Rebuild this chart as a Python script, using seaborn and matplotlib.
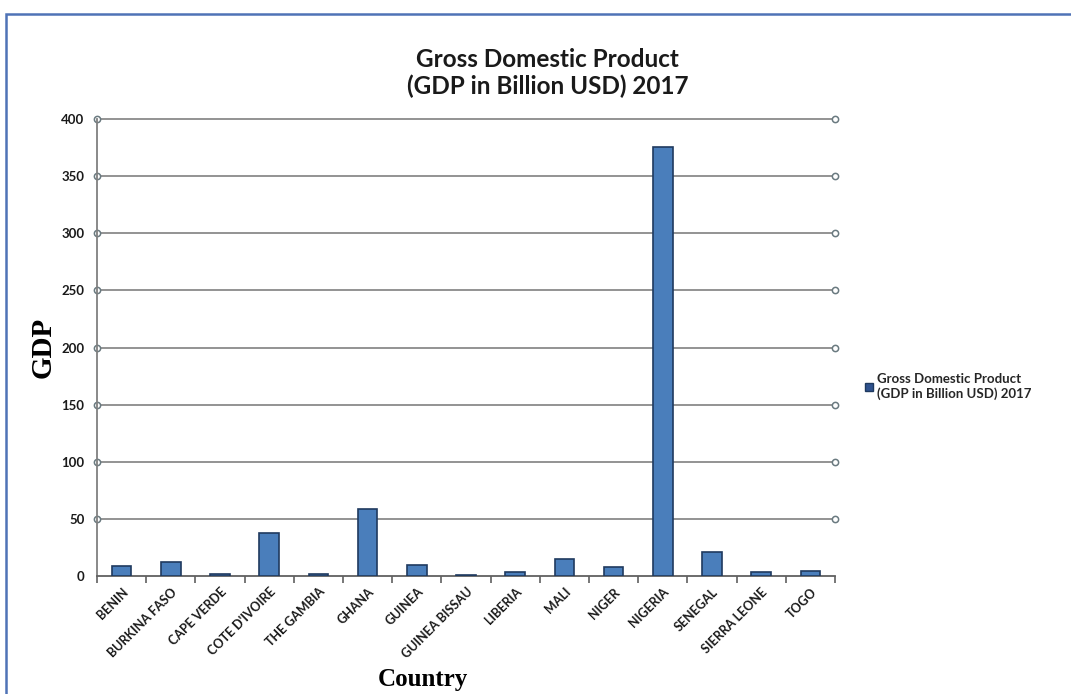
import matplotlib
matplotlib.use("Agg")
import matplotlib.pyplot as plt
from matplotlib.patches import Rectangle
from matplotlib.lines import Line2D
import seaborn as sns
import pandas as pd

countries = ["BENIN", "BURKINA FASO", "CAPE VERDE", "COTE D'IVOIRE", "THE GAMBIA",
             "GHANA", "GUINEA", "GUINEA BISSAU", "LIBERIA", "MALI", "NIGER",
             "NIGERIA", "SENEGAL", "SIERRA LEONE", "TOGO"]
gdp = [9.0, 12.5, 1.7, 37.5, 1.5, 58.5, 9.5, 1.3, 3.3, 15.0, 8.0, 375.5, 21.0, 3.8, 4.8]
yticks = [0, 50, 100, 150, 200, 250, 300, 350, 400]
series_name = "Gross Domestic Product\n(GDP in Billion USD) 2017"

df = pd.DataFrame({"Country": countries, "GDP": gdp})

sns.set_theme(style="white")
plt.rcParams["font.family"] = ["Lato", "DejaVu Sans"]

fig = plt.figure(figsize=(10.71, 6.94), dpi=100)
ax = fig.add_axes([0.0906, 0.170, 0.6890, 0.6585])

bar_color = "#4A7EBB"
edge_color = "#1F3A5F"
sns.barplot(data=df, x="Country", y="GDP", color=bar_color, width=0.4,
            edgecolor=edge_color, linewidth=1.2, saturation=1, ax=ax, zorder=3)

n = len(countries)
ax.set_xlim(-0.5, n - 0.5)
ax.set_ylim(0, 400)
ax.set_yticks(yticks)
ax.set_yticklabels([str(v) for v in yticks], fontsize=9.5, fontweight="bold", color="#1a1a1a")
ax.tick_params(axis="y", length=0, pad=9)

# gridlines with open circle end-markers
for v in yticks:
    if v == 0:
        continue
    ax.plot([-0.5, n - 0.5], [v, v], color="#808080", lw=1.2, zorder=1,
            marker="o", markersize=4.5, markerfacecolor="white",
            markeredgecolor="#6a7a80", markeredgewidth=1.1, clip_on=False)

for s in ["top", "right"]:
    ax.spines[s].set_visible(False)
ax.spines["left"].set_color("#808080")
ax.spines["left"].set_linewidth(1.3)
ax.spines["bottom"].set_color("#606060")
ax.spines["bottom"].set_linewidth(1.3)

ax.set_xticks(range(n))
ax.set_xticklabels(countries, rotation=45, ha="right", rotation_mode="anchor",
                   fontsize=9, fontweight="bold", color="#1a1a1a")
ax.tick_params(axis="x", which="major", length=0, pad=7)
ax.set_xticks([i - 0.5 for i in range(n + 1)], minor=True)
ax.tick_params(axis="x", which="minor", length=5, width=1.2, color="#606060", bottom=True)

ax.set_xlabel("")
ax.set_ylabel("GDP", family="Liberation Serif", fontsize=21, fontweight="bold",
              color="black", labelpad=3)
fig.text(0.395, 0.005, "Country", family="Liberation Serif", fontsize=18,
         fontweight="bold", color="black", ha="center", va="bottom")

ax.set_title("Gross Domestic Product\n(GDP in Billion USD) 2017", fontsize=17.5,
             fontweight="bold", color="#1a1a1a", pad=18, x=0.611, linespacing=1.2)

handle = Line2D([], [], marker="s", linestyle="none", markersize=5.5,
                markerfacecolor="#2F528F", markeredgecolor="#1F3A5F")
fig.legend([handle], [series_name], loc="upper left", bbox_to_anchor=(0.795, 0.48),
           frameon=False, handletextpad=0.2, handlelength=0.8,
           prop={"family": "Lato", "weight": "bold", "size": 9.5})

# outer blue frame
fig.patches.append(Rectangle((0.0056, -0.1), 1.2, 1.08, transform=fig.transFigure,
                             fill=False, edgecolor="#4F73B6", linewidth=1.8))

fig.savefig("out.png", dpi=100, facecolor="white")
